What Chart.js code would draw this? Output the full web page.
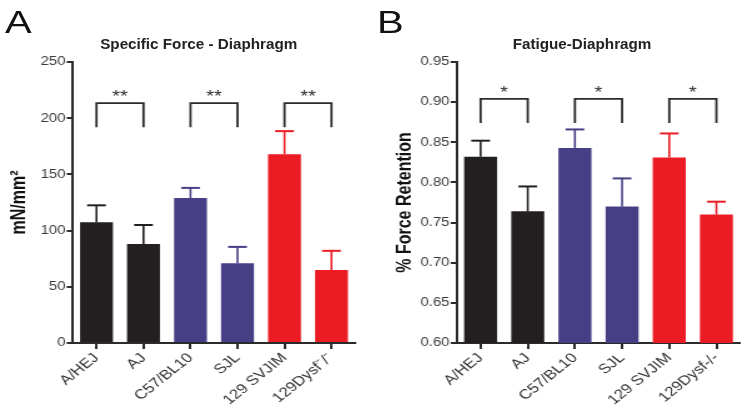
<!DOCTYPE html>
<html>
<head>
<meta charset="utf-8">
<script src="https://cdn.jsdelivr.net/npm/chart.js@4.4.1/dist/chart.umd.min.js"></script>
<style>
  html, body { margin: 0; padding: 0; background: #fff; width: 745px; height: 414px; overflow: hidden; }
  /* the source figure is stretched sideways, so each panel is drawn narrow and scaled */
  .panel { position: absolute; top: 0; width: 298px; height: 414px; transform: scaleX(1.25); transform-origin: 0 0;
           font-family: "Liberation Sans", Arial, sans-serif; }
  #panelA { left: 0; }
  #panelB { left: 372px; }
  .letter { position: absolute; left: 4px; top: 6px; font-size: 32px; line-height: 32px; color: #111; }
  .title { position: absolute; top: 36px; font-weight: bold; font-size: 14px; line-height: 16px; color: #222;
           white-space: nowrap; transform: translateX(-50%) scaleX(0.87); }
  .wrap { position: absolute; left: 0; top: 0; width: 298px; height: 414px; }
</style>
</head>
<body>
<div class="panel" id="panelA">
  <div class="wrap"><canvas id="forceChart"></canvas></div>
  <div class="letter">A</div>
  <div class="title" style="left:159px">Specific Force - Diaphragm</div>
</div>
<div class="panel" id="panelB">
  <div class="wrap"><canvas id="fatigueChart"></canvas></div>
  <div class="letter">B</div>
  <div class="title" style="left:168px">Fatigue-Diaphragm</div>
</div>
<script>
// ---- data ----
const strainsA = ["A/HEJ", "AJ", "C57/BL10", "SJL", "129 SVJIM", "129Dysf\u207B/\u207B"];
const strainsB = ["A/HEJ", "AJ", "C57/BL10", "SJL", "129 SVJIM", "129Dysf-/-"];
const barColors = ["#231f20", "#231f20", "#463f86", "#463f86", "#ec1c24", "#ec1c24"];

const forceMean = [107.5, 88, 129, 71, 168, 65];
const forceErr = [15, 17, 9, 14.5, 20.5, 17];
const fatigueMean = [0.832, 0.764, 0.843, 0.770, 0.831, 0.760];
const fatigueErr = [0.020, 0.031, 0.023, 0.035, 0.030, 0.016];

const sigPairs = [[0, 1], [2, 3], [4, 5]];
const forceSig = ["**", "**", "**"];
const fatigueSig = ["*", "*", "*"];
const forceBracket = [213.5, 192];   // top line, leg end
const fatigueBracket = [0.904, 0.874];

const FONT = "'Liberation Sans', Arial, sans-serif";
const INK = "#2b2b2b";

// one-sided error bars with a cap
const errorBars = {
  id: "errorBars",
  afterDatasetsDraw(chart, args, opts) {
    const ctx = chart.ctx;
    const y = chart.scales.y;
    const ds = chart.data.datasets[0];
    ctx.save();
    chart.getDatasetMeta(0).data.forEach((bar, i) => {
      const top = y.getPixelForValue(ds.data[i] + opts.errors[i]);
      ctx.strokeStyle = ds.backgroundColor[i];
      ctx.lineWidth = 1.6;
      ctx.beginPath();
      ctx.moveTo(bar.x, bar.y);
      ctx.lineTo(bar.x, top);
      ctx.stroke();
      ctx.lineWidth = 2;
      ctx.beginPath();
      ctx.moveTo(bar.x - 7.5, top);
      ctx.lineTo(bar.x + 7.5, top);
      ctx.stroke();
    });
    ctx.restore();
  }
};

// significance brackets between bar pairs
const sigBrackets = {
  id: "sigBrackets",
  afterDatasetsDraw(chart, args, opts) {
    const ctx = chart.ctx;
    const { x, y } = chart.scales;
    const top = y.getPixelForValue(opts.top);
    const leg = y.getPixelForValue(opts.leg);
    ctx.save();
    ctx.strokeStyle = INK;
    ctx.fillStyle = INK;
    ctx.lineWidth = 1.8;
    ctx.font = "16px " + FONT;
    ctx.textAlign = "center";
    ctx.textBaseline = "alphabetic";
    opts.pairs.forEach(([a, b], k) => {
      const x1 = x.getPixelForValue(a);
      const x2 = x.getPixelForValue(b);
      ctx.beginPath();
      ctx.moveTo(x1, leg);
      ctx.lineTo(x1, top);
      ctx.lineTo(x2, top);
      ctx.lineTo(x2, leg);
      ctx.stroke();
      ctx.fillText(opts.labels[k], (x1 + x2) / 2, top - 1);
    });
    ctx.restore();
  }
};

function makeChart(id, cfg) {
  new Chart(document.getElementById(id), {
    type: "bar",
    data: {
      labels: cfg.labels,
      datasets: [{
        data: cfg.values,
        backgroundColor: barColors,
        borderWidth: 0,
        barPercentage: 0.7,
        categoryPercentage: 1.0,
      }],
    },
    options: {
      responsive: true,
      maintainAspectRatio: false,
      animation: false,
      layout: { padding: { top: 62, right: cfg.padRight, bottom: 0, left: 0 } },
      plugins: {
        legend: { display: false },
        tooltip: { enabled: false },
        errorBars: { errors: cfg.errors },
        sigBrackets: { pairs: sigPairs, labels: cfg.sig, top: cfg.bracket[0], leg: cfg.bracket[1] },
      },
      scales: {
        x: {
          afterFit: s => { s.height = 71; },
          grid: { offset: false, drawOnChartArea: false, tickLength: 6, color: INK, lineWidth: 2 },
          border: { color: INK, width: 2 },
          ticks: {
            font: { family: FONT, size: 13.5 },
            color: "#333",
            maxRotation: 45,
            minRotation: 45,
            padding: 1,
            autoSkip: false,
          },
        },
        y: {
          min: cfg.min,
          max: cfg.max,
          afterFit: s => { s.width = cfg.axisWidth; },
          grid: { drawOnChartArea: false, tickLength: 5, color: INK, lineWidth: 2 },
          border: { color: INK, width: 2 },
          ticks: {
            stepSize: cfg.step,
            font: { family: FONT, size: 12 },
            color: "#3a3a3a",
            padding: 1,
            callback: v => cfg.fmt(v),
          },
          title: {
            display: true,
            text: cfg.yTitle,
            font: { family: FONT, size: 16, weight: "bold" },
            color: "#111",
            padding: { top: cfg.titlePad, bottom: 0 },
          },
        },
      },
    },
    plugins: [errorBars, sigBrackets],
  });
}

makeChart("forceChart", {
  labels: strainsA, values: forceMean, errors: forceErr,
  sig: forceSig, bracket: forceBracket,
  min: 0, max: 250, step: 50, fmt: v => String(Math.round(v)),
  yTitle: "mN/mm\u00B2", axisWidth: 58.4, titlePad: 5.6, padRight: 14,
});

makeChart("fatigueChart", {
  labels: strainsB, values: fatigueMean, errors: fatigueErr,
  sig: fatigueSig, bracket: fatigueBracket,
  min: 0.6, max: 0.95, step: 0.05, fmt: v => v.toFixed(2),
  yTitle: "% Force Retention", axisWidth: 68, titlePad: 16.8, padRight: 3.6,
});
</script>
</body>
</html>
